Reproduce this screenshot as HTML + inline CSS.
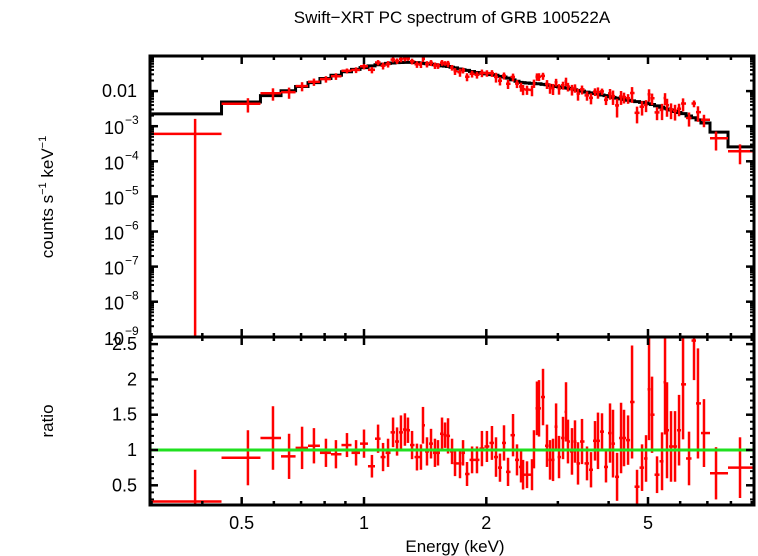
<!DOCTYPE html>
<html><head><meta charset="utf-8"><style>
body{margin:0;background:#fff;}
svg{display:block;font-family:"Liberation Sans",sans-serif;}
</style></head><body>
<svg id="chart" width="758" height="556" viewBox="0 0 758 556" xmlns="http://www.w3.org/2000/svg">
<rect width="758" height="556" fill="#fff"/>
<text x="452" y="23" font-size="17" text-anchor="middle">Swift−XRT PC spectrum of GRB 100522A</text>
<text transform="translate(53,197) rotate(-90)" font-size="17" text-anchor="middle">counts s<tspan font-size="11" dy="-7">−1</tspan><tspan dy="7"> keV</tspan><tspan font-size="11" dy="-7">−1</tspan></text>
<text transform="translate(53,421) rotate(-90)" font-size="17" text-anchor="middle">ratio</text>
<text x="455" y="552" font-size="17" text-anchor="middle">Energy (keV)</text>
<g id="marks"></g>
</svg>
<script>
const energies=[0.384,0.518,0.597,0.654,0.704,0.753,0.806,0.853,0.908,
0.956,1.000,1.046,1.083,1.114,1.146,1.179,1.206,1.233,1.261,
1.283,1.313,1.350,1.381,1.397,1.429,1.462,1.495,1.521,1.556,
1.583,1.610,1.647,1.675,1.723,1.753,1.793,1.845,1.897,1.951,
2.007,2.065,2.113,2.161,2.211,2.262,2.327,2.380,2.435,2.463,
2.519,2.591,2.620,2.665,2.696,2.758,2.821,2.870,2.919,2.970,
3.020,3.089,3.142,3.177,3.250,3.306,3.363,3.440,3.539,3.620,
3.703,3.766,3.853,3.941,4.032,4.101,4.196,4.292,4.365,4.466,
4.568,4.699,4.834,4.945,5.030,5.116,5.263,5.414,5.507,5.569,
5.697,5.828,5.962,6.099,6.309,6.490,6.637,6.867,7.352,8.423];
const eMin=0.3, eMax=9.1;
const modelLog=[-2.65,-2.31,-2.13,-1.99,-1.87,-1.76,-1.64,-1.55,-1.45,
-1.38,-1.33,-1.28,-1.25,-1.23,-1.21,-1.20,-1.19,-1.185,-1.18,
-1.18,-1.18,-1.19,-1.20,-1.21,-1.22,-1.23,-1.25,-1.26,-1.28,
-1.29,-1.30,-1.32,-1.34,-1.37,-1.39,-1.41,-1.44,-1.47,-1.49,
-1.51,-1.53,-1.55,-1.58,-1.60,-1.63,-1.68,-1.72,-1.75,-1.76,
-1.77,-1.78,-1.78,-1.79,-1.79,-1.81,-1.82,-1.84,-1.86,-1.87,
-1.88,-1.90,-1.91,-1.92,-1.94,-1.96,-1.98,-2.00,-2.03,-2.05,
-2.07,-2.08,-2.11,-2.13,-2.16,-2.18,-2.20,-2.22,-2.24,-2.26,
-2.28,-2.30,-2.32,-2.34,-2.36,-2.38,-2.42,-2.46,-2.49,-2.51,
-2.54,-2.58,-2.61,-2.64,-2.71,-2.76,-2.82,-2.91,-3.17,-3.59];
const ratio=[0.27,0.89,1.17,0.91,1.03,1.06,0.96,0.94,1.07,
0.96,1.09,0.77,1.16,0.9,0.96,1.25,1.12,1.25,1.29,
1.28,1.07,0.9,0.9,1.35,0.98,1.09,0.96,0.96,1.23,
1.21,1.2,0.98,0.81,0.81,0.96,0.66,0.86,0.86,1.02,
1.05,1.1,0.9,0.75,1.1,0.69,1.21,0.86,0.76,0.65,
0.65,0.65,1.01,1.59,1.59,1.75,1.06,0.86,0.86,1.33,
0.9,1.17,1.54,1.12,0.98,1.12,0.81,1.12,0.81,0.72,
1.13,1.13,1.26,0.76,1.24,1.09,0.62,1.17,1.17,1.14,
1.68,0.48,0.75,0.88,1.86,1.5,0.65,0.84,1.96,1.28,
1.05,1.05,1.28,1.93,0.88,2.55,1.66,1.24,0.67,0.75];
const ratioErr=[0.45,0.39,0.45,0.32,0.3,0.25,0.2,0.2,0.17,
0.18,0.2,0.16,0.2,0.2,0.2,0.21,0.2,0.24,0.23,
0.18,0.2,0.19,0.18,0.26,0.2,0.21,0.2,0.18,0.23,
0.18,0.25,0.18,0.18,0.21,0.18,0.17,0.19,0.19,0.25,
0.22,0.24,0.28,0.2,0.25,0.2,0.3,0.22,0.22,0.21,
0.19,0.22,0.27,0.38,0.4,0.4,0.3,0.28,0.3,0.33,
0.3,0.3,0.42,0.31,0.33,0.3,0.3,0.32,0.24,0.25,
0.28,0.4,0.26,0.22,0.42,0.48,0.34,0.5,0.4,0.35,
0.8,0.24,0.33,0.33,0.72,0.54,0.26,0.41,0.74,0.68,
0.5,0.5,0.5,0.78,0.38,0.56,0.78,0.48,0.37,0.43];
const xMajor=[0.5,1,2,5], xMajorLabels=["0.5","1","2","5"];
const xMinor=[0.3,0.4,0.6,0.7,0.8,0.9,3,4,6,7,8,9];
const topDecades=[-9,-8,-7,-6,-5,-4,-3,-2];
const topLabels=["10","10","10","10","10","10","10","0.01"];
const topExps=["−9","−8","−7","−6","−5","−4","−3",""];
const ratioMajor=[0.5,1,1.5,2,2.5], ratioLabels=["0.5","1","1.5","2","2.5"];

const L=150,R=754,T=56,M=337,B=505;
const X=e=>364+406.3*Math.log10(e);
const YT=lv=>56+(-1-lv)*35.1;
const YB=r=>450-(r-1)*70.6;
const clamp=(v,a,b)=>Math.max(a,Math.min(b,v));
const g=document.getElementById('marks');
const NS="http://www.w3.org/2000/svg";
function ln(x1,y1,x2,y2,c,w){const l=document.createElementNS(NS,'line');l.setAttribute('x1',x1);l.setAttribute('y1',y1);l.setAttribute('x2',x2);l.setAttribute('y2',y2);l.setAttribute('stroke',c);l.setAttribute('stroke-width',w);g.appendChild(l);return l;}
function tx(x,y,s,anchor,size){const t=document.createElementNS(NS,'text');t.setAttribute('x',x);t.setAttribute('y',y);t.setAttribute('text-anchor',anchor);t.setAttribute('font-size',size);t.textContent=s;g.appendChild(t);return t;}

const lo=[],hi=[];
for(let i=0;i<energies.length;i++){
  lo.push(i===0?eMin:Math.sqrt(energies[i-1]*energies[i]));
  hi.push(i===energies.length-1?eMax:Math.sqrt(energies[i]*energies[i+1]));
}
let d="";
for(let i=0;i<energies.length;i++){
  const y=clamp(YT(modelLog[i]),T,M);
  d+=(i===0?"M":"L")+X(lo[i])+","+y+"L"+X(hi[i])+","+y;
}
const mp=document.createElementNS(NS,'path');mp.setAttribute('d',d);mp.setAttribute('fill','none');mp.setAttribute('stroke','#000');mp.setAttribute('stroke-width','3');


g.appendChild(mp);
for(let i=0;i<energies.length;i++){
  const m=Math.pow(10,modelLog[i]);
  const v=m*ratio[i], e=m*ratioErr[i];
  const xc=X(energies[i]);
  const yv=clamp(YT(Math.log10(v)),T,M);
  const yu=clamp(YT(Math.log10(v+e)),T,M);
  const yl=(v-e)>0?clamp(YT(Math.log10(v-e)),T,M):M;
  const h=ln(X(lo[i]),yv,X(hi[i]),yv,'#f00',2.5);
  
  
  const vv=ln(xc,yu,xc,yl,'#f00',2.5);
  
  
  const ry=clamp(YB(ratio[i]),M,B);
  const h2=ln(X(lo[i]),ry,X(hi[i]),ry,'#f00',2.5);
  
  
  const v2=ln(xc,clamp(YB(ratio[i]+ratioErr[i]),M,B),xc,clamp(YB(ratio[i]-ratioErr[i]),M,B),'#f00',2.5);
  
  
}
const u=ln(L,YB(1),R,YB(1),'#1fe01f',3);


xMajor.forEach((e,i)=>{const x=X(e);
  [[T,8],[M,8],[M,-8],[B,-8]].forEach(([y,l])=>ln(x,y,x,y+l,'#000',2.5));
  const t=tx(x,529,xMajorLabels[i],'middle',18);
  
  
});
xMinor.forEach(e=>{const x=X(e);[[T,4],[M,4],[M,-4],[B,-4]].forEach(([y,l])=>ln(x,y,x,y+l,'#000',2.5));});
topDecades.forEach((dc,i)=>{const y=YT(dc);
  ln(L,y,L+8,y,'#000',2.5);ln(R,y,R-8,y,'#000',2.5);
  for(let k=2;k<=9;k++){const ym=YT(dc+Math.log10(k));if(ym>=T&&ym<=M){ln(L,ym,L+4,ym,'#000',2);ln(R,ym,R-4,ym,'#000',2);}}
  let t;
  if(topExps[i]===""){t=tx(137,y+6,topLabels[i],'end',18);}
  else{t=tx(124,y+8,topLabels[i],'end',18);const s=tx(125,y-2,topExps[i],'start',12);}
  
  
});
for(let r=0.3;r<=2.6;r+=0.1){const y=YB(r);if(y>=M&&y<=B){ln(L,y,L+4,y,'#000',2);ln(R,y,R-4,y,'#000',2);}}
ratioMajor.forEach((r,i)=>{const y=YB(r);ln(L,y,L+8,y,'#000',2.5);ln(R,y,R-8,y,'#000',2.5);
  const t=tx(137,y+6,ratioLabels[i],'end',18);
  
  
});
[[T,M],[M,B]].forEach(([a,b],i)=>{const r=document.createElementNS(NS,'rect');r.setAttribute('x',L);r.setAttribute('y',a);r.setAttribute('width',R-L);r.setAttribute('height',b-a);r.setAttribute('fill','none');r.setAttribute('stroke','#000');r.setAttribute('stroke-width','3');
  
  
  g.appendChild(r);});
</script>
</body></html>
